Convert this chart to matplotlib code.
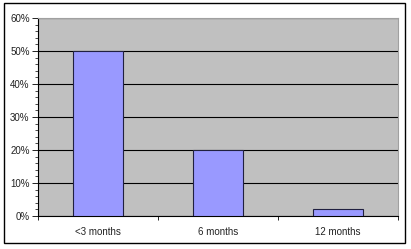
import matplotlib
matplotlib.use("Agg")
import matplotlib.pyplot as plt
from matplotlib.ticker import MultipleLocator, FuncFormatter
from matplotlib.patches import Rectangle

plt.rcParams["font.family"] = ["Liberation Sans", "DejaVu Sans"]

categories = ["<3 months", "6 months", "12 months"]
values = [50, 20, 2]

fig = plt.figure(figsize=(4.11, 2.49), dpi=100)
fig.patch.set_facecolor("white")
ax = fig.add_axes([38/411, 1-216/249, 360/411, 198/249])
ax.set_facecolor("#c0c0c0")
x = range(len(categories))
ax.bar(x, values, width=0.41, color="#9999ff", edgecolor="#202040", linewidth=0.8, zorder=3)
ax.set_xlim(-0.5, 2.5)
ax.set_ylim(0, 60)
ax.yaxis.set_major_locator(MultipleLocator(10))
ax.yaxis.set_minor_locator(MultipleLocator(2))
ax.yaxis.set_major_formatter(FuncFormatter(lambda v, p: f"{int(v)}%"))
ax.grid(axis="y", which="major", color="black", linewidth=0.8, zorder=1)
ax.set_axisbelow(True)
ax.set_xticks([0, 1, 2])
ax.set_xticklabels(categories)
ax.set_xticks([-0.5, 0.5, 1.5, 2.5], minor=True)
ax.tick_params(axis="x", which="major", length=0, pad=8, labelsize=7, labelcolor="#222222")
ax.tick_params(axis="x", which="minor", length=3, direction="out", width=0.6)
ax.tick_params(axis="y", which="major", length=4, direction="out", labelsize=7, width=0.6, pad=2, labelcolor="#222222")
ax.tick_params(axis="y", which="minor", length=2, direction="out", width=0.5)
for s in ["top", "right"]:
    ax.spines[s].set_color("#a0a0a0")
    ax.spines[s].set_linewidth(0.8)
for s in ["left", "bottom"]:
    ax.spines[s].set_color("black")
    ax.spines[s].set_linewidth(0.8)

fig.patches.append(Rectangle((4/411, 6/249), 401/411, 240/249, transform=fig.transFigure,
                             fill=False, edgecolor="black", linewidth=1.0))
fig.savefig("out.png", dpi=100)
